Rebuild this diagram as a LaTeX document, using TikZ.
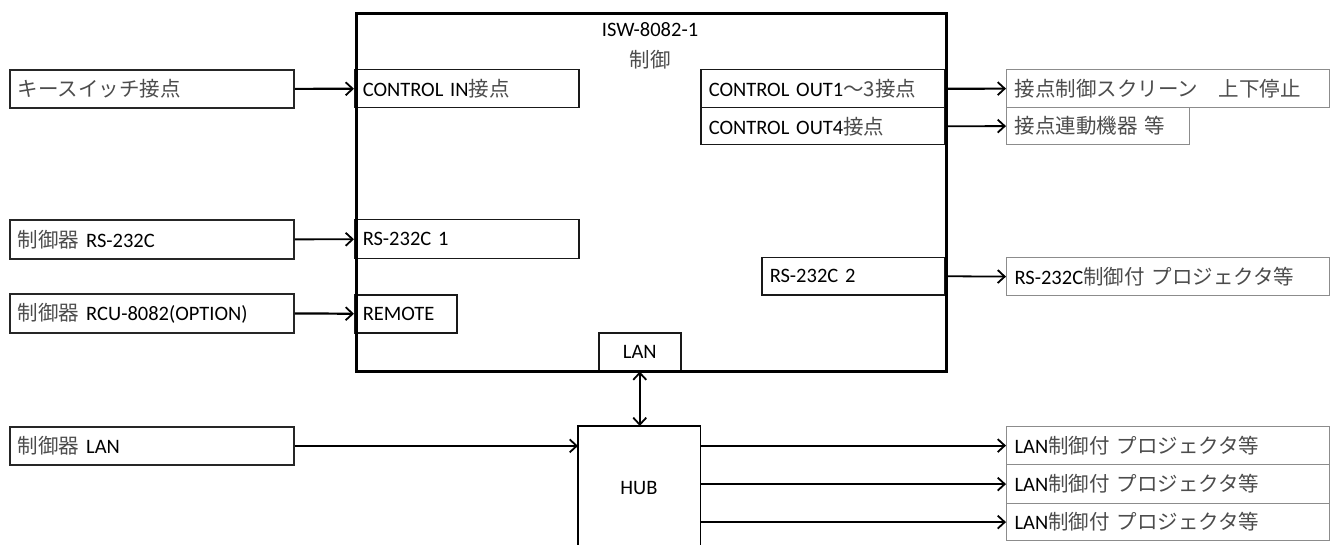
\documentclass[tikz,border=0pt]{standalone}
\usepackage{fontspec}
\setmainfont{Carlito}
\newfontfamily\jpfont{Noto Sans CJK JP}
\usetikzlibrary{arrows.meta}
\newcommand{\J}[1]{{\jpfont\color{black!70}#1}}
\tikzset{
  x=1pt, y=-1pt,
  every node/.style={font=\fontsize{20.5}{24}\selectfont},
  box/.style={draw, inner xsep=8pt, inner ysep=0pt, align=left, anchor=north west},
  lbox/.style={box, draw=black!85, line width=1.8pt},
  ibox/.style={box, draw=black!90, line width=1.5pt},
  rbox/.style={box, draw=black!45, line width=1.2pt},
  arr/.style={line width=1.8pt, -{Straight Barb[length=7pt,width=13pt,line width=1.8pt]}},
  darr/.style={line width=1.8pt, {Straight Barb[length=7pt,width=13pt,line width=1.8pt]}-{Straight Barb[length=7pt,width=13pt,line width=1.8pt]}},
}
\begin{document}
\begin{tikzpicture}
\useasboundingbox (0,0) rectangle (1330,545);
% left source boxes
\node[lbox, text width=268pt, minimum height=38pt] (k1) at (9,69) {\J{キースイッチ接点}};
\node[lbox, text width=268pt, minimum height=39pt] (k2) at (9,219) {\J{制御器} RS-232C};
\node[lbox, text width=268pt, minimum height=39pt] (k3) at (9,293) {\J{制御器} RCU-8082(OPTION)};
\node[lbox, text width=268pt, minimum height=38pt] (k4) at (9,426) {\J{制御器} LAN};
% inner ports
\node[ibox, text width=208pt, minimum height=38pt] (cin) at (354,69) {CONTROL IN\J{接点}};
\node[ibox, text width=208pt, minimum height=39pt] (rs1) at (354,219) {RS-232C 1};
\node[ibox, text width=86pt, minimum height=38pt] (rem) at (354,294) {REMOTE};
\node[ibox, text width=66pt, minimum height=38pt, align=center] (lan) at (598,332) {LAN};
\node[ibox, text width=228pt, minimum height=38pt] (co1) at (700,69) {CONTROL OUT1\J{～3}\J{接点}};
\node[ibox, text width=228pt, minimum height=37pt] (co4) at (700,107) {CONTROL OUT4\J{接点}};
\node[ibox, text width=167pt, minimum height=37pt] (rs2) at (761,257) {RS-232C 2};
% main box
\node[draw, line width=2.7pt, minimum width=590pt, minimum height=358pt, anchor=north west, inner sep=0pt] (main) at (355,12) {};
\node (t1) at (650,30) {ISW-8082-1};
\node (t2) at (650,60) {\J{制御}};
% right target boxes
\node[rbox, text width=307pt, minimum height=38pt] (r1) at (1006,69) {\J{接点制御スクリーン　上下停止}};
\node[rbox, text width=167pt, minimum height=37pt] (r2) at (1006,107) {\J{接点連動機器 等}};
\node[rbox, text width=307pt, minimum height=38pt] (r3) at (1006,257) {RS-232C\J{制御付 プロジェクタ等}};
\node[rbox, text width=307pt, minimum height=38pt] (r4) at (1006,426) {LAN\J{制御付 プロジェクタ等}};
\node[rbox, text width=307pt, minimum height=39pt] (r5) at (1006,464) {LAN\J{制御付 プロジェクタ等}};
\node[rbox, text width=307pt, minimum height=37pt] (r6) at (1006,503) {LAN\J{制御付 プロジェクタ等}};
% HUB
\node[minimum width=122pt, minimum height=124pt, anchor=north west, inner sep=0pt] (hub) at (578,426) {};
\node (hubt) at (639,488) {HUB};
\draw[line width=1.5pt] (hub.south west) -- (hub.north west) -- (hub.north east) -- (hub.south east);
% connectors
\draw[arr, line width=2.2pt] (k1.east) -- (cin.west);
\draw[arr] (k2.east) -- (rs1.west);
\draw[arr, line width=2.2pt] (k3.east) -- (rem.west);
\draw[arr, line width=2.2pt] (co1.east) -- (r1.west);
\draw[arr] (co4.east) -- (r2.west);
\draw[arr] (rs2.east) -- (r3.west);
\draw[darr] (lan.south) -- (lan.south |- hub.north);
\draw[arr] (k4.east) -- (k4.east -| hub.west);
\draw[arr] (r4.west -| hub.east) -- (r4.west);
\draw[arr, line width=2.2pt] (r5.west -| hub.east) -- (r5.west);
\draw[arr] (r6.west -| hub.east) -- (r6.west);
\end{tikzpicture}
\end{document}
